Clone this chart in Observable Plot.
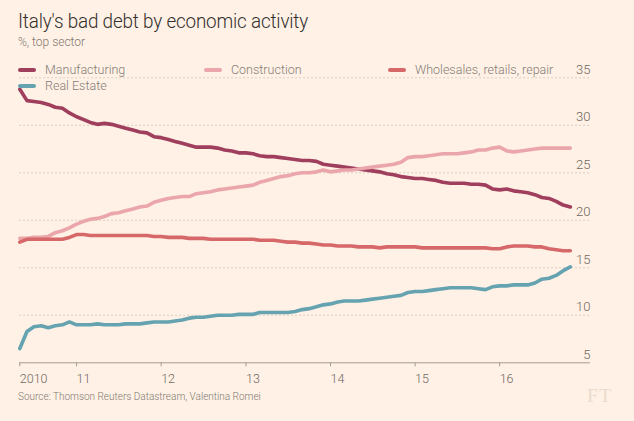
<!DOCTYPE html>
<html>
<head>
<meta charset="utf-8">
<script src="https://cdn.jsdelivr.net/npm/d3@7"></script>
<script src="https://cdn.jsdelivr.net/npm/@observablehq/plot@0.6"></script>
<style>
  html, body { margin: 0; padding: 0; background: #fff1e5; }
  #wrap { position: relative; width: 634px; height: 421px; overflow: hidden; background: #fff1e5; font-family: Roboto, "Noto Sans", sans-serif; font-weight: 300; }
  #chart { position: absolute; left: 0; top: 0; }
  #title { position: absolute; left: 18px; top: 9px; font-size: 20.5px; font-weight: 300; color: #33302e; white-space: nowrap; transform-origin: 0 0; letter-spacing: -0.2px; }
  #subtitle { position: absolute; left: 18px; top: 35px; font-size: 12px; color: #7f7770; white-space: nowrap; }
  .leg { position: absolute; font-size: 12.5px; color: #857d77; white-space: nowrap; line-height: 14px; }
  .leg .sw { position: absolute; left: 0; top: 5px; width: 18px; height: 4px; border-radius: 2px; }
  .leg .lb { position: absolute; left: 27px; top: 0; }
  #source { position: absolute; left: 18px; top: 391px; font-size: 10px; color: #807973; white-space: nowrap; }
  #ft { position: absolute; left: 587px; top: 385px; font-family: "Liberation Serif", "DejaVu Serif", serif; font-size: 19.5px; font-weight: 400; color: #ebdccd; letter-spacing: 1.5px; }
  g[aria-label="x-axis tick"] { stroke: #a59c94; }
</style>
</head>
<body>
<div id="wrap">
  <div id="chart"></div>
  <div id="title">Italy's bad debt by economic activity</div>
  <div id="subtitle">%, top sector</div>
  <div id="legend"></div>
  <div id="source">Source: Thomson Reuters Datastream, Valentina Romei</div>
  <div id="ft">FT</div>
</div>
<script>
// ---- data (monthly, May 2010 – Nov 2016) ----
const firstMonth = new Date(Date.UTC(2010, 4, 1));
const lastMonth = new Date(Date.UTC(2016, 10, 1));

const manufacturing = [
  33.8,32.6,32.5,32.4,32.2,31.9,31.8,31.3,30.9,30.6,30.3,30.1,30.2,30.1,29.9,29.7,29.5,29.3,29.2,28.8,28.7,
  28.5,28.3,28.1,27.9,27.7,27.7,27.7,27.6,27.4,27.3,27.1,27.1,27.0,26.8,26.7,26.7,26.6,26.5,26.4,
  26.3,26.3,26.2,25.9,25.8,25.7,25.6,25.5,25.4,25.3,25.2,25.1,24.9,24.8,24.6,24.5,24.4,24.4,24.3,24.2,24.0,
  23.9,23.9,23.9,23.8,23.8,23.7,23.3,23.2,23.3,23.1,23.0,22.9,22.7,22.4,22.3,22.0,21.6,21.4
];
const construction = [
  18.1,18.1,18.2,18.2,18.3,18.7,18.9,19.2,19.6,19.9,20.1,20.2,20.4,20.7,20.8,21.0,21.2,21.4,21.5,21.9,22.1,
  22.3,22.4,22.5,22.5,22.8,22.9,23.0,23.2,23.3,23.4,23.5,23.6,23.7,24.0,24.2,24.4,24.6,24.7,24.9,25.0,
  25.0,25.1,25.3,25.1,25.2,25.3,25.3,25.4,25.5,25.6,25.7,25.8,25.9,26.1,26.6,26.7,26.7,26.8,26.9,27.0,
  27.0,27.0,27.1,27.2,27.4,27.4,27.6,27.7,27.3,27.2,27.3,27.4,27.5,27.6,27.6,27.6,27.6,27.6
];
const wholesales = [
  17.7,18.0,18.0,18.0,18.0,18.0,18.0,18.2,18.5,18.5,18.4,18.4,18.4,18.4,18.4,18.4,18.4,18.4,18.4,18.3,18.3,
  18.2,18.2,18.2,18.1,18.1,18.1,18.0,18.0,18.0,18.0,18.0,18.0,18.0,17.9,17.9,17.9,17.8,17.7,17.7,17.6,
  17.6,17.5,17.4,17.4,17.3,17.3,17.3,17.2,17.2,17.2,17.1,17.2,17.2,17.2,17.2,17.2,17.1,17.1,17.1,17.1,
  17.1,17.1,17.1,17.1,17.1,17.1,17.0,17.0,17.2,17.3,17.3,17.3,17.2,17.2,17.0,16.9,16.8,16.8
];
const realEstate = [
  6.5,8.3,8.8,8.9,8.7,8.9,9.0,9.3,9.0,9.0,9.0,9.1,9.0,9.0,9.0,9.1,9.1,9.1,9.2,9.3,9.3,
  9.3,9.4,9.5,9.7,9.8,9.8,9.9,10.0,10.0,10.0,10.1,10.1,10.1,10.3,10.3,10.3,10.3,10.3,10.4,10.6,
  10.7,10.9,11.1,11.2,11.4,11.5,11.5,11.5,11.6,11.7,11.8,11.9,12.0,12.1,12.4,12.5,12.5,12.6,12.7,12.8,
  12.9,12.9,12.9,12.9,12.8,12.7,13.0,13.1,13.1,13.2,13.2,13.2,13.4,13.8,13.9,14.2,14.7,15.1
];

const seriesNames = ["Manufacturing", "Construction", "Wholesales, retails, repair", "Real Estate"];
const seriesColors = ["#a03e5e", "#eba6ab", "#d6686a", "#66a3b1"];
const seriesValues = [manufacturing, construction, wholesales, realEstate];

const xTickDates = [firstMonth, ...[2011, 2012, 2013, 2014, 2015, 2016].map(y => new Date(Date.UTC(y, 0, 1)))];
const xTickLabels = ["2010", "11", "12", "13", "14", "15", "16"];
const yTicks = [5, 10, 15, 20, 25, 30, 35];

// ---- build table ----
const months = d3.utcMonth.range(firstMonth, d3.utcMonth.offset(lastMonth, 1));
const table = [];
seriesNames.forEach((name, s) => {
  seriesValues[s].forEach((v, i) => table.push({series: name, date: months[i], value: v}));
});

const xEnd = new Date(Date.UTC(2017, 0, 27));
const labelMap = new Map(xTickDates.map((d, i) => [+d, xTickLabels[i]]));

const plot = Plot.plot({
  width: 634,
  height: 421,
  marginTop: 77.3,
  marginBottom: 58.7,
  marginLeft: 19.3,
  marginRight: 44,
  style: {background: "transparent", fontFamily: "Roboto, 'Noto Sans', sans-serif", fontWeight: 300, fontSize: "12.5px", color: "#6f6862", overflow: "visible"},
  x: {type: "utc", domain: [firstMonth, xEnd], axis: null},
  y: {domain: [5, 35], axis: null},
  color: {domain: seriesNames, range: seriesColors},
  marks: [
    Plot.ruleY(yTicks.filter(d => d > 5), {stroke: "#cfc3b8", strokeDasharray: "1.5,2.5", strokeWidth: 1}),
    Plot.ruleY([5], {stroke: "#a59c94", strokeWidth: 1}),
    Plot.axisX(xTickDates, {tickSize: 4, tickPadding: 7, textAnchor: "start", tickFormat: d => labelMap.get(+d), fontSize: 12.5}),
    Plot.text(yTicks, {x: xEnd, y: d => d, text: d => String(d), textAnchor: "end", dy: -8, fill: "#6f6862", fontSize: 13}),
    Plot.line(table, {x: "date", y: "value", z: "series", stroke: "series", strokeWidth: 3.6, strokeLinejoin: "round", strokeLinecap: "round", curve: "linear"})
  ]
});
document.getElementById("chart").appendChild(plot);

// ---- legend ----
const legendPos = [[18, 63], [204, 63], [388, 63], [18, 79]];
const legend = document.getElementById("legend");
seriesNames.forEach((name, i) => {
  const el = document.createElement("div");
  el.className = "leg";
  el.style.left = legendPos[i][0] + "px";
  el.style.top = legendPos[i][1] + "px";
  el.innerHTML = `<span class="sw" style="background:${seriesColors[i]}"></span><span class="lb">${name}</span>`;
  legend.appendChild(el);
});

// fit the title to the reference's narrow headline width
const t = document.getElementById("title");
const w = t.getBoundingClientRect().width;
const target = 290;
if (w > 0) t.style.transform = `scaleX(${target / w})`;
</script>
</body>
</html>
